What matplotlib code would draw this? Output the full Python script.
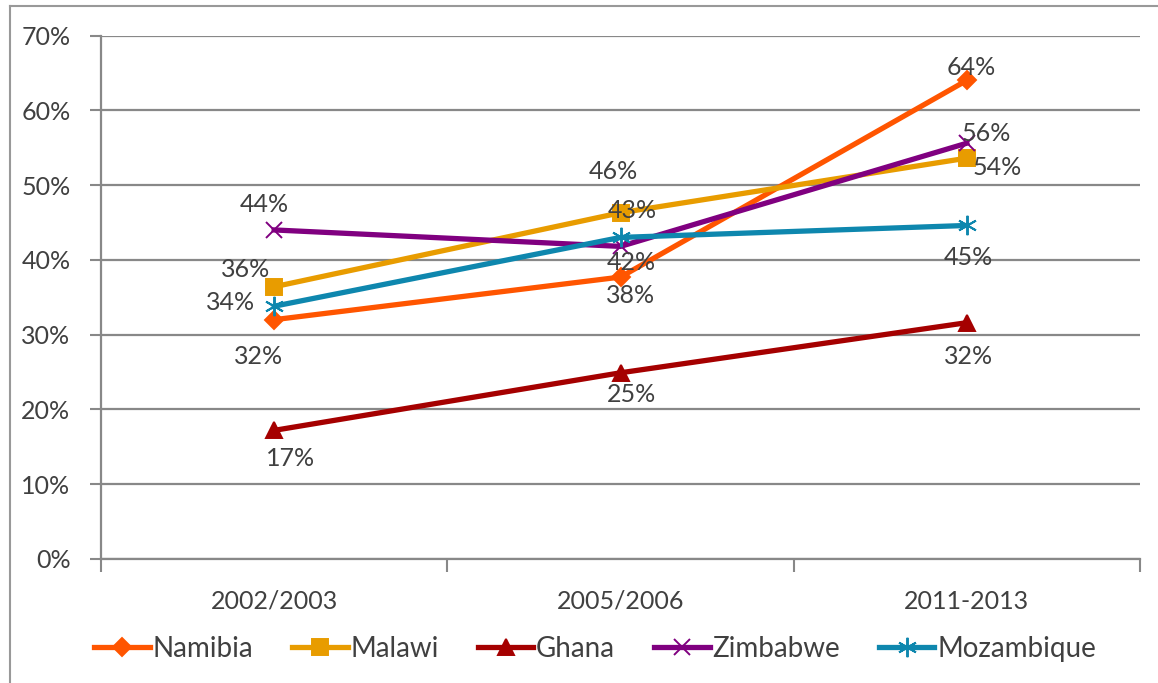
import matplotlib
matplotlib.use("Agg")
import matplotlib.pyplot as plt
from matplotlib.lines import Line2D

plt.rcParams['font.family'] = ['Lato', 'DejaVu Sans']

# donnees
periods = ["2002/2003", "2005/2006", "2011-2013"]
countries = ["Namibia", "Malawi", "Ghana", "Zimbabwe", "Mozambique"]
namibia = [32.0, 37.7, 64.0]
malawi = [36.4, 46.3, 53.6]
ghana = [17.2, 24.9, 31.6]
zimbabwe = [44.0, 41.8, 55.6]
mozambique = [33.8, 43.0, 44.6]
series = [namibia, malawi, ghana, zimbabwe, mozambique]

# style
colors = ["#FF5500", "#E89C00", "#A50000", "#800080", "#0E87AE"]
markers = ["D", "s", "^", "x", (6, 2, 0)]
msizes = [9, 11, 12, 12, 14]
# decalage des etiquettes (pixels, centre du texte par rapport au point)
label_offsets = [
    [(-16, -37), (10, -18), (4, 13)],
    [(-29, 17), (-7, 41), (30, -9)],
    [(16, -28), (11, -22), (2, -34)],
    [(-10, 25), (11, -16), (19, 10)],
    [(-44, 4), (12, 27), (2, -32)],
]

fig = plt.figure(figsize=(11.58, 6.83), dpi=100)
ax = fig.add_axes([101 / 1158, 1 - 559 / 683, (1140 - 101) / 1158, (559 - 35.5) / 683])

x = list(range(len(periods)))
for vals, name, c, m, ms, offs in zip(series, countries, colors, markers, msizes, label_offsets):
    ax.plot(x, vals, color=c, lw=3.8, marker=m, markersize=ms, markeredgewidth=1.4,
            markeredgecolor=c, markerfacecolor=c, label=name, zorder=3)
    for xi, v, off in zip(x, vals, offs):
        ax.annotate(f"{v:.0f}%", (xi, v), xytext=off, textcoords="offset pixels",
                    ha="center", va="center", fontsize=18, color="#404040", zorder=4)

ax.set_xlim(-0.5, 2.5)
ax.set_ylim(0, 70)
ax.set_yticks(range(0, 71, 10))
ax.set_yticklabels([f"{t}%" for t in range(0, 71, 10)])
ax.set_xticks([-0.5, 0.5, 1.5, 2.5])
ax.set_xticklabels([])
ax.set_xticks(x, minor=True)
ax.set_xticklabels(periods, minor=True)
ax.tick_params(axis="x", which="major", length=9, width=1.5, color="#888888")
ax.tick_params(axis="x", which="minor", length=0, pad=22, labelsize=18, labelcolor="#404040")
ax.tick_params(axis="y", length=8, width=1.5, color="#888888", labelsize=18, labelcolor="#404040", pad=14)

ax.grid(axis="y", color="#888888", lw=1.6)
ax.set_axisbelow(True)
for s in ["top", "right"]:
    ax.spines[s].set_visible(False)
for s in ["left", "bottom"]:
    ax.spines[s].set_color("#888888")
    ax.spines[s].set_linewidth(1.6)

# cadre exterieur
fig.add_artist(Line2D([10 / 1158, 10 / 1158], [0, 1 - 6 / 683], color="#999999", lw=1.5))
fig.add_artist(Line2D([10 / 1158, 1], [1 - 6 / 683, 1 - 6 / 683], color="#999999", lw=1.5))

fig.legend(loc="center", bbox_to_anchor=(0.514, 0.05), ncol=5, frameon=False,
           fontsize=20, labelcolor="#404040", handlelength=2.0, handletextpad=0.1,
           columnspacing=1.4)

fig.savefig("out.png", dpi=100)
